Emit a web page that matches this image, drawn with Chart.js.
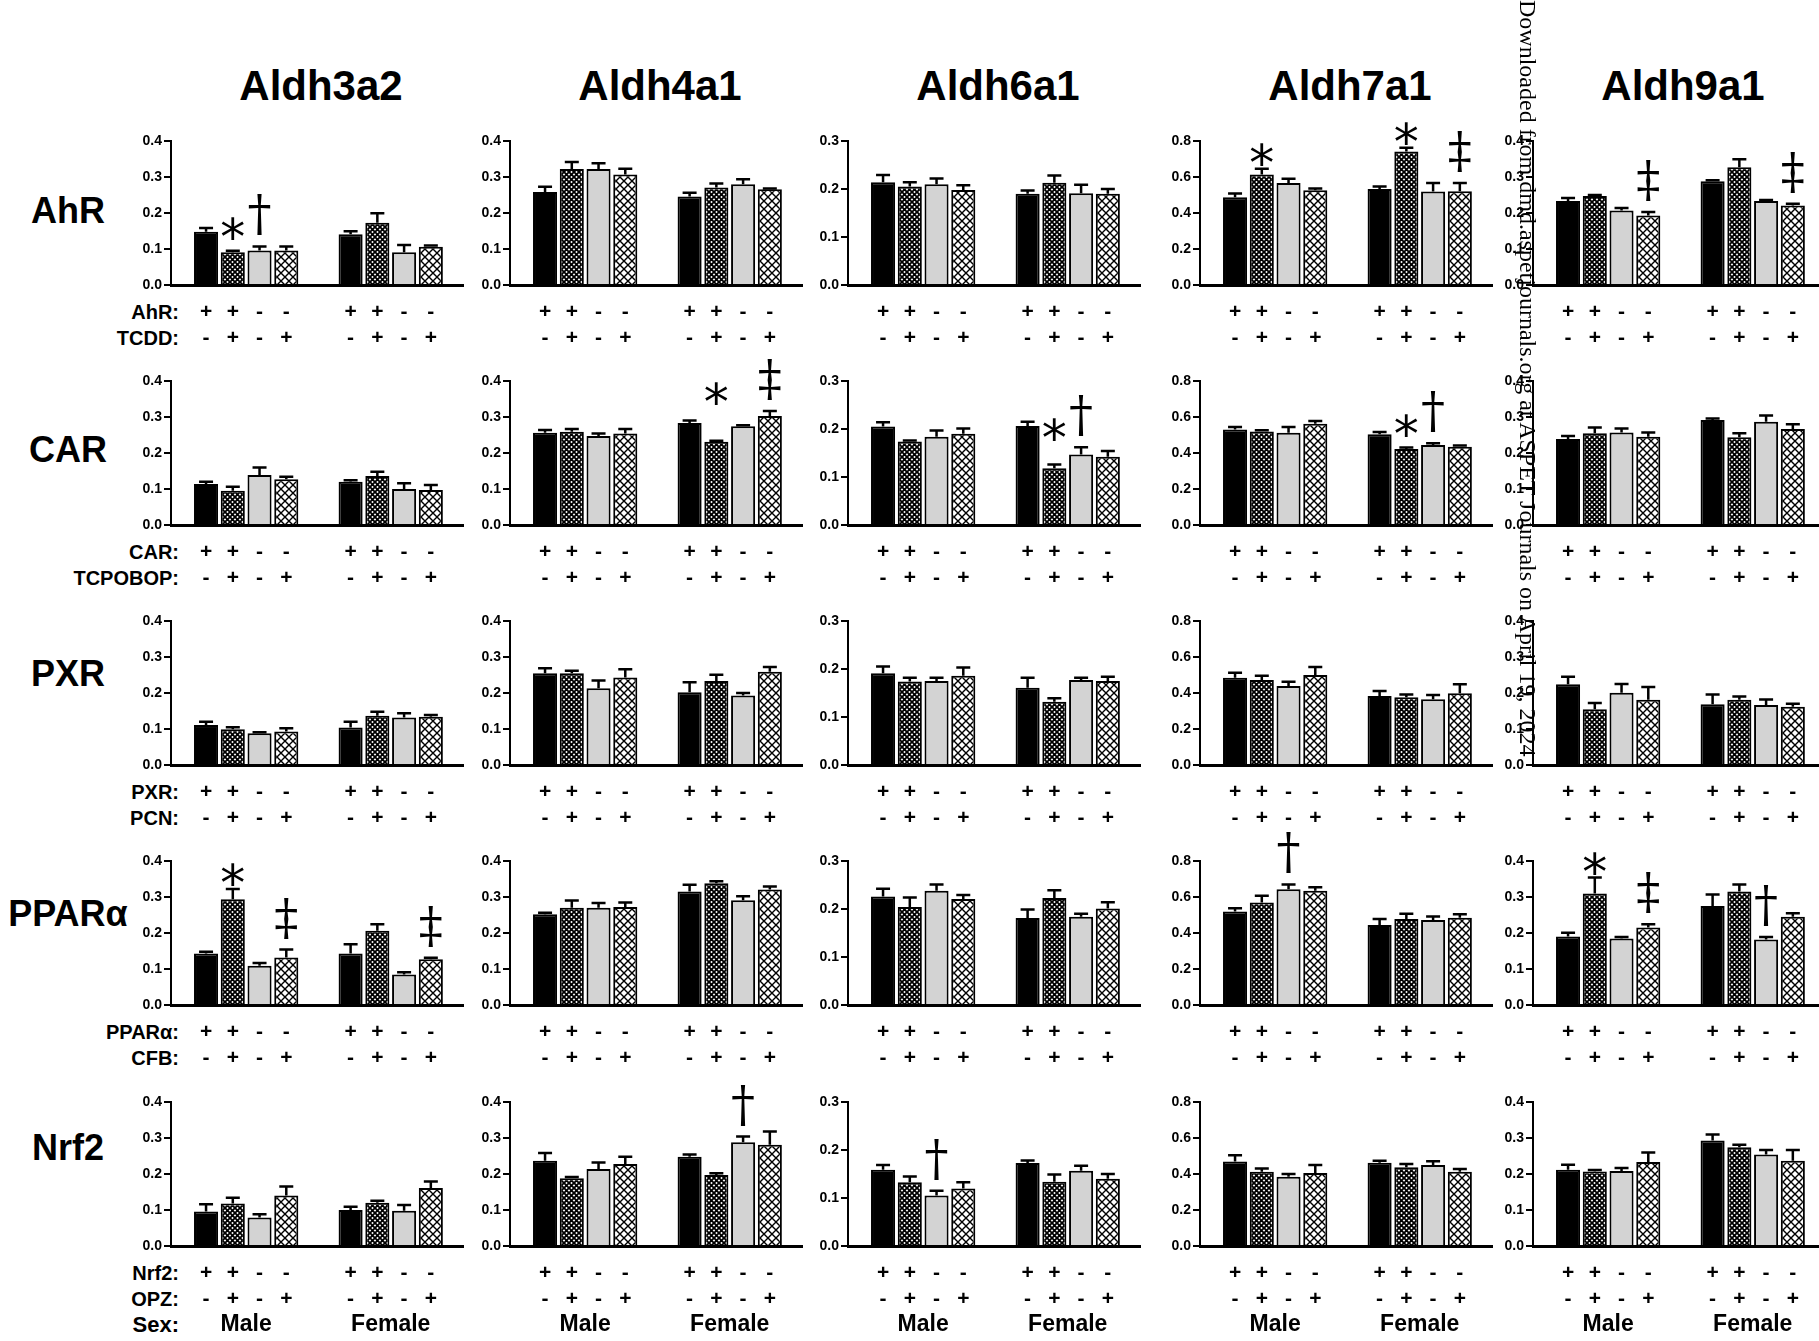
<!DOCTYPE html>
<html>
<head>
<meta charset="utf-8">
<script src="https://cdn.jsdelivr.net/npm/chart.js@4.4.1/dist/chart.umd.min.js"></script>
<style>
body { margin: 0; background: #fff; }
#page { position: relative; width: 1819px; height: 1341px; overflow: hidden; background: #fff; font-family: 'Liberation Sans', Arial, sans-serif; color: #000; }
.gene { position: absolute; top: 62px; font-weight: bold; font-size: 42px; transform: translateX(-50%); white-space: nowrap; }
.rowname { position: absolute; font-weight: bold; font-size: 36px; transform: translate(-50%, -50%); white-space: nowrap; }
.cond { position: absolute; right: 1640px; font-weight: bold; font-size: 20px; transform: translateY(-50%); white-space: nowrap; }
.sex { font-size: 22px; }
canvas { position: absolute; }
#wm { position: absolute; left: 1514px; top: 0; writing-mode: vertical-rl; font-family: 'Liberation Serif', serif; font-size: 24px; white-space: nowrap; }
</style>
</head>
<body>
<div id="page"></div>
<script>
// genes (columns) and nuclear receptor rows
var genes = ['Aldh3a2', 'Aldh4a1', 'Aldh6a1', 'Aldh7a1', 'Aldh9a1'];
var yMax = [0.4, 0.4, 0.3, 0.8, 0.4];
var yStep = [0.1, 0.1, 0.1, 0.2, 0.1];
var rowNames = ['AhR', 'CAR', 'PXR', 'PPARα', 'Nrf2'];
var receptorLabels = ['AhR:', 'CAR:', 'PXR:', 'PPARα:', 'Nrf2:'];
var ligandLabels = ['TCDD:', 'TCPOBOP:', 'PCN:', 'CFB:', 'OPZ:'];
var sexes = ['Male', 'Female'];
var receptorSigns = ['+', '+', '-', '-'];
var ligandSigns = ['-', '+', '-', '+'];

// values per gene: [male x4 groups, female x4 groups]
var ahrMean = [
    [0.148, 0.091, 0.096, 0.096, 0.141, 0.173, 0.091, 0.106],
    [0.258, 0.322, 0.322, 0.307, 0.246, 0.271, 0.280, 0.266],
    [0.214, 0.205, 0.210, 0.198, 0.190, 0.213, 0.191, 0.190],
    [0.487, 0.614, 0.567, 0.527, 0.534, 0.742, 0.519, 0.521],
    [0.233, 0.247, 0.207, 0.193, 0.288, 0.327, 0.233, 0.221]
];
var ahrSem = [
    [0.010, 0.004, 0.011, 0.011, 0.008, 0.026, 0.020, 0.004],
    [0.015, 0.020, 0.016, 0.016, 0.010, 0.011, 0.014, 0.002],
    [0.015, 0.009, 0.012, 0.010, 0.007, 0.015, 0.018, 0.010],
    [0.021, 0.032, 0.023, 0.009, 0.013, 0.021, 0.048, 0.046],
    [0.009, 0.003, 0.007, 0.010, 0.003, 0.022, 0.003, 0.005]
];
var carMean = [
    [0.114, 0.095, 0.139, 0.127, 0.120, 0.136, 0.100, 0.097],
    [0.256, 0.259, 0.247, 0.254, 0.283, 0.231, 0.274, 0.303],
    [0.205, 0.174, 0.184, 0.190, 0.206, 0.118, 0.147, 0.142],
    [0.531, 0.519, 0.513, 0.563, 0.504, 0.422, 0.444, 0.435],
    [0.239, 0.255, 0.257, 0.245, 0.292, 0.244, 0.287, 0.267]
];
var carSem = [
    [0.006, 0.011, 0.021, 0.007, 0.004, 0.012, 0.016, 0.014],
    [0.008, 0.008, 0.007, 0.013, 0.007, 0.003, 0.003, 0.014],
    [0.009, 0.002, 0.013, 0.011, 0.009, 0.008, 0.015, 0.012],
    [0.013, 0.007, 0.031, 0.015, 0.013, 0.008, 0.010, 0.006],
    [0.008, 0.016, 0.011, 0.012, 0.004, 0.011, 0.017, 0.013]
];
var pxrMean = [
    [0.111, 0.099, 0.088, 0.093, 0.104, 0.137, 0.132, 0.134],
    [0.255, 0.255, 0.213, 0.243, 0.202, 0.233, 0.193, 0.259],
    [0.191, 0.174, 0.175, 0.186, 0.161, 0.132, 0.177, 0.175],
    [0.485, 0.472, 0.439, 0.500, 0.383, 0.376, 0.365, 0.398],
    [0.224, 0.155, 0.201, 0.181, 0.169, 0.181, 0.167, 0.162]
];
var pxrSem = [
    [0.009, 0.006, 0.003, 0.009, 0.016, 0.011, 0.012, 0.005],
    [0.014, 0.007, 0.022, 0.023, 0.028, 0.018, 0.007, 0.013],
    [0.014, 0.008, 0.007, 0.017, 0.021, 0.007, 0.005, 0.009],
    [0.028, 0.024, 0.024, 0.044, 0.028, 0.015, 0.024, 0.050],
    [0.021, 0.017, 0.024, 0.036, 0.027, 0.009, 0.015, 0.008]
];
var pparMean = [
    [0.143, 0.294, 0.109, 0.132, 0.143, 0.206, 0.085, 0.127],
    [0.252, 0.270, 0.270, 0.272, 0.315, 0.338, 0.291, 0.321],
    [0.226, 0.204, 0.238, 0.221, 0.181, 0.223, 0.184, 0.201],
    [0.519, 0.570, 0.643, 0.635, 0.444, 0.478, 0.472, 0.485],
    [0.190, 0.310, 0.185, 0.215, 0.275, 0.315, 0.182, 0.245]
];
var pparSem = [
    [0.005, 0.028, 0.008, 0.022, 0.026, 0.018, 0.006, 0.004],
    [0.004, 0.020, 0.013, 0.013, 0.019, 0.006, 0.011, 0.008],
    [0.016, 0.020, 0.013, 0.008, 0.018, 0.016, 0.006, 0.013],
    [0.018, 0.037, 0.027, 0.019, 0.034, 0.029, 0.019, 0.019],
    [0.011, 0.044, 0.004, 0.009, 0.032, 0.020, 0.007, 0.010]
];
var nrf2Mean = [
    [0.096, 0.118, 0.079, 0.140, 0.100, 0.120, 0.098, 0.161],
    [0.237, 0.188, 0.214, 0.228, 0.248, 0.197, 0.288, 0.281],
    [0.159, 0.133, 0.105, 0.120, 0.173, 0.134, 0.157, 0.140],
    [0.469, 0.413, 0.385, 0.406, 0.463, 0.437, 0.450, 0.413],
    [0.212, 0.207, 0.208, 0.233, 0.293, 0.274, 0.254, 0.237]
];
var nrf2Sem = [
    [0.020, 0.016, 0.009, 0.025, 0.009, 0.006, 0.016, 0.018],
    [0.021, 0.004, 0.018, 0.020, 0.006, 0.005, 0.016, 0.037],
    [0.010, 0.012, 0.010, 0.013, 0.005, 0.015, 0.010, 0.010],
    [0.035, 0.017, 0.015, 0.044, 0.011, 0.019, 0.021, 0.015],
    [0.014, 0.004, 0.009, 0.027, 0.017, 0.007, 0.013, 0.030]
];
// significance marks: [gene, sex, group, symbol]
var ahrMarks = [[0, 0, 1, '*'], [0, 0, 2, '†'], [3, 0, 1, '*'], [3, 1, 1, '*'], [3, 1, 3, '‡'], [4, 0, 3, '‡'], [4, 1, 3, '‡']];
var carMarks = [[1, 1, 1, '*'], [1, 1, 3, '‡'], [2, 1, 1, '*'], [2, 1, 2, '†'], [3, 1, 1, '*'], [3, 1, 2, '†']];
var pxrMarks = [];
var pparMarks = [[0, 0, 1, '*'], [0, 0, 3, '‡'], [0, 1, 3, '‡'], [3, 0, 2, '†'], [4, 0, 1, '*'], [4, 0, 3, '‡'], [4, 1, 2, '†']];
var nrf2Marks = [[1, 1, 2, '†'], [2, 0, 2, '†']];

var rowMeans = [ahrMean, carMean, pxrMean, pparMean, nrf2Mean];
var rowSems = [ahrSem, carSem, pxrSem, pparSem, nrf2Sem];
var rowMarks = [ahrMarks, carMarks, pxrMarks, pparMarks, nrf2Marks];

// layout
var axisX = [171, 510, 848, 1200, 1533];
var rowTop = [141, 381, 621, 861, 1102];
var rowLabelY = [211, 450, 674, 914, 1148];
var PLOT_H = 144, PT = 64, PB = 96, YW = 46;
var page = document.getElementById('page');

function hatch(size, lw, bg) {
    var c = document.createElement('canvas');
    c.width = c.height = size;
    var g = c.getContext('2d');
    g.fillStyle = bg;
    g.fillRect(0, 0, size, size);
    g.strokeStyle = '#000';
    g.lineWidth = lw;
    g.beginPath();
    g.moveTo(0, 0); g.lineTo(size, size);
    g.moveTo(size, 0); g.lineTo(0, size);
    g.stroke();
    return g.createPattern(c, 'repeat');
}
var fills = ['#000000', hatch(5, 1.8, '#ffffff'), '#d3d3d3', hatch(8, 1.4, '#ffffff')];

function addText(cls, text, left, top) {
    var d = document.createElement('div');
    d.className = cls;
    d.textContent = text;
    if (left !== null) d.style.left = left + 'px';
    d.style.top = top + 'px';
    page.appendChild(d);
}

// titles and row labels
genes.forEach(function (g, i) { addText('gene', g, axisX[i] + 150, 62); });
rowNames.forEach(function (n, r) {
    addText('rowname', n, 68, rowLabelY[r]);
    var base = rowTop[r] + PLOT_H;
    addText('cond', receptorLabels[r], null, base + 27);
    addText('cond', ligandLabels[r], null, base + 53);
});
addText('cond sex', 'Sex:', null, rowTop[4] + PLOT_H + 79);

function deco(sem, marks, showSex) {
    return {
        id: 'deco',
        afterDatasetsDraw: function (chart) {
            var ctx = chart.ctx, ys = chart.scales.y;
            var errTop = function (k, s) {
                return ys.getPixelForValue(chart.data.datasets[k].data[s].y + sem[s * 4 + k]);
            };
            ctx.save();
            ctx.strokeStyle = '#000';
            ctx.lineWidth = 2.5;
            for (var k = 0; k < 4; k++) {
                chart.getDatasetMeta(k).data.forEach(function (bar, s) {
                    var yTop = errTop(k, s);
                    ctx.beginPath();
                    ctx.moveTo(bar.x, bar.y);
                    ctx.lineTo(bar.x, yTop);
                    ctx.moveTo(bar.x - 7, yTop);
                    ctx.lineTo(bar.x + 7, yTop);
                    ctx.stroke();
                });
            }
            ctx.fillStyle = '#000';
            ctx.textAlign = 'center';
            ctx.textBaseline = 'alphabetic';
            // daggers sit just above their error bar; a star is lifted to the dagger's level when both share a sex group
            var daggerMid = {};
            marks.forEach(function (m) {
                if (m[2] === '*') return;
                var base = errTop(m[1], m[0]) - 16;
                ctx.font = '48px "DejaVu Serif", serif';
                ctx.fillText(m[2], chart.getDatasetMeta(m[1]).data[m[0]].x, base);
                daggerMid[m[0]] = base - 15;
            });
            marks.forEach(function (m) {
                if (m[2] !== '*') return;
                var centre = errTop(m[1], m[0]) - 20;
                if (daggerMid[m[0]] !== undefined) centre = Math.min(centre, daggerMid[m[0]] + 8);
                ctx.font = '50px "DejaVu Sans", sans-serif';
                ctx.fillText('*', chart.getDatasetMeta(m[1]).data[m[0]].x, centre + 31);
            });
            ctx.restore();
        },
        afterDraw: function (chart) {
            var ctx = chart.ctx, a = chart.chartArea;
            ctx.save();
            ctx.fillStyle = '#000';
            ctx.textAlign = 'center';
            ctx.textBaseline = 'middle';
            ctx.font = 'bold 21px "Liberation Sans", Arial, sans-serif';
            for (var k = 0; k < 4; k++) {
                chart.getDatasetMeta(k).data.forEach(function (bar) {
                    ctx.fillText(receptorSigns[k], bar.x, a.bottom + 27);
                    ctx.fillText(ligandSigns[k], bar.x, a.bottom + 53);
                });
            }
            if (showSex) {
                ctx.font = 'bold 23px "Liberation Sans", Arial, sans-serif';
                sexes.forEach(function (sx, s) {
                    ctx.fillText(sx, chart.scales.x.getPixelForValue(s), a.bottom + 79);
                });
            }
            ctx.restore();
        }
    };
}

function drawPanel(r, g) {
    var mean = rowMeans[r][g], sem = rowSems[r][g];
    var marks = rowMarks[r].filter(function (m) { return m[0] === g; }).map(function (m) { return [m[1], m[2], m[3]]; });
    var cv = document.createElement('canvas');
    cv.width = YW + 296;
    cv.height = PT + PLOT_H + PB;
    page.appendChild(cv);
    var datasets = [0, 1, 2, 3].map(function (k) {
        return {
            data: sexes.map(function (sx, s) { return { x: s, y: mean[s * 4 + k] }; }),
            backgroundColor: fills[k],
            borderColor: '#000',
            borderWidth: 2,
            categoryPercentage: 0.74,
            barPercentage: 0.9
        };
    });
    var chart = new Chart(cv, {
        type: 'bar',
        data: { datasets: datasets },
        options: {
            responsive: false,
            animation: false,
            devicePixelRatio: 1,
            layout: { padding: { top: PT, bottom: PB, left: 0, right: 4 } },
            plugins: { legend: { display: false }, tooltip: { enabled: false } },
            scales: {
                x: {
                    type: 'linear', min: -0.52, max: 1.5, offset: false,
                    grid: { display: false },
                    ticks: { display: false },
                    border: { display: true, color: '#000', width: 3 },
                    afterBuildTicks: function (s) { s.ticks = [{ value: 0 }, { value: 1 }]; },
                    afterFit: function (s) { s.height = 0; }
                },
                y: {
                    min: 0, max: yMax[g],
                    ticks: {
                        stepSize: yStep[g], color: '#000', padding: 2,
                        font: { family: "'Liberation Sans Narrow', 'Liberation Sans', Arial", size: 14, weight: 'bold' },
                        callback: function (v) { return v.toFixed(1); }
                    },
                    grid: { drawOnChartArea: false, drawTicks: true, tickLength: 7, color: '#000', lineWidth: 2 },
                    border: { display: true, color: '#000', width: 2 },
                    afterFit: function (s) { s.width = YW; }
                }
            }
        },
        plugins: [deco(sem, marks, r === 4)]
    });
    var a = chart.chartArea;
    cv.style.left = (axisX[g] - a.left) + 'px';
    cv.style.top = (rowTop[r] - a.top) + 'px';
}

for (var r = 0; r < 5; r++) {
    for (var g = 0; g < 5; g++) drawPanel(r, g);
}

var wm = document.createElement('div');
wm.id = 'wm';
wm.textContent = 'Downloaded from dmd.aspetjournals.org at ASPET Journals on April 19, 2024';
page.appendChild(wm);
</script>
</body>
</html>
